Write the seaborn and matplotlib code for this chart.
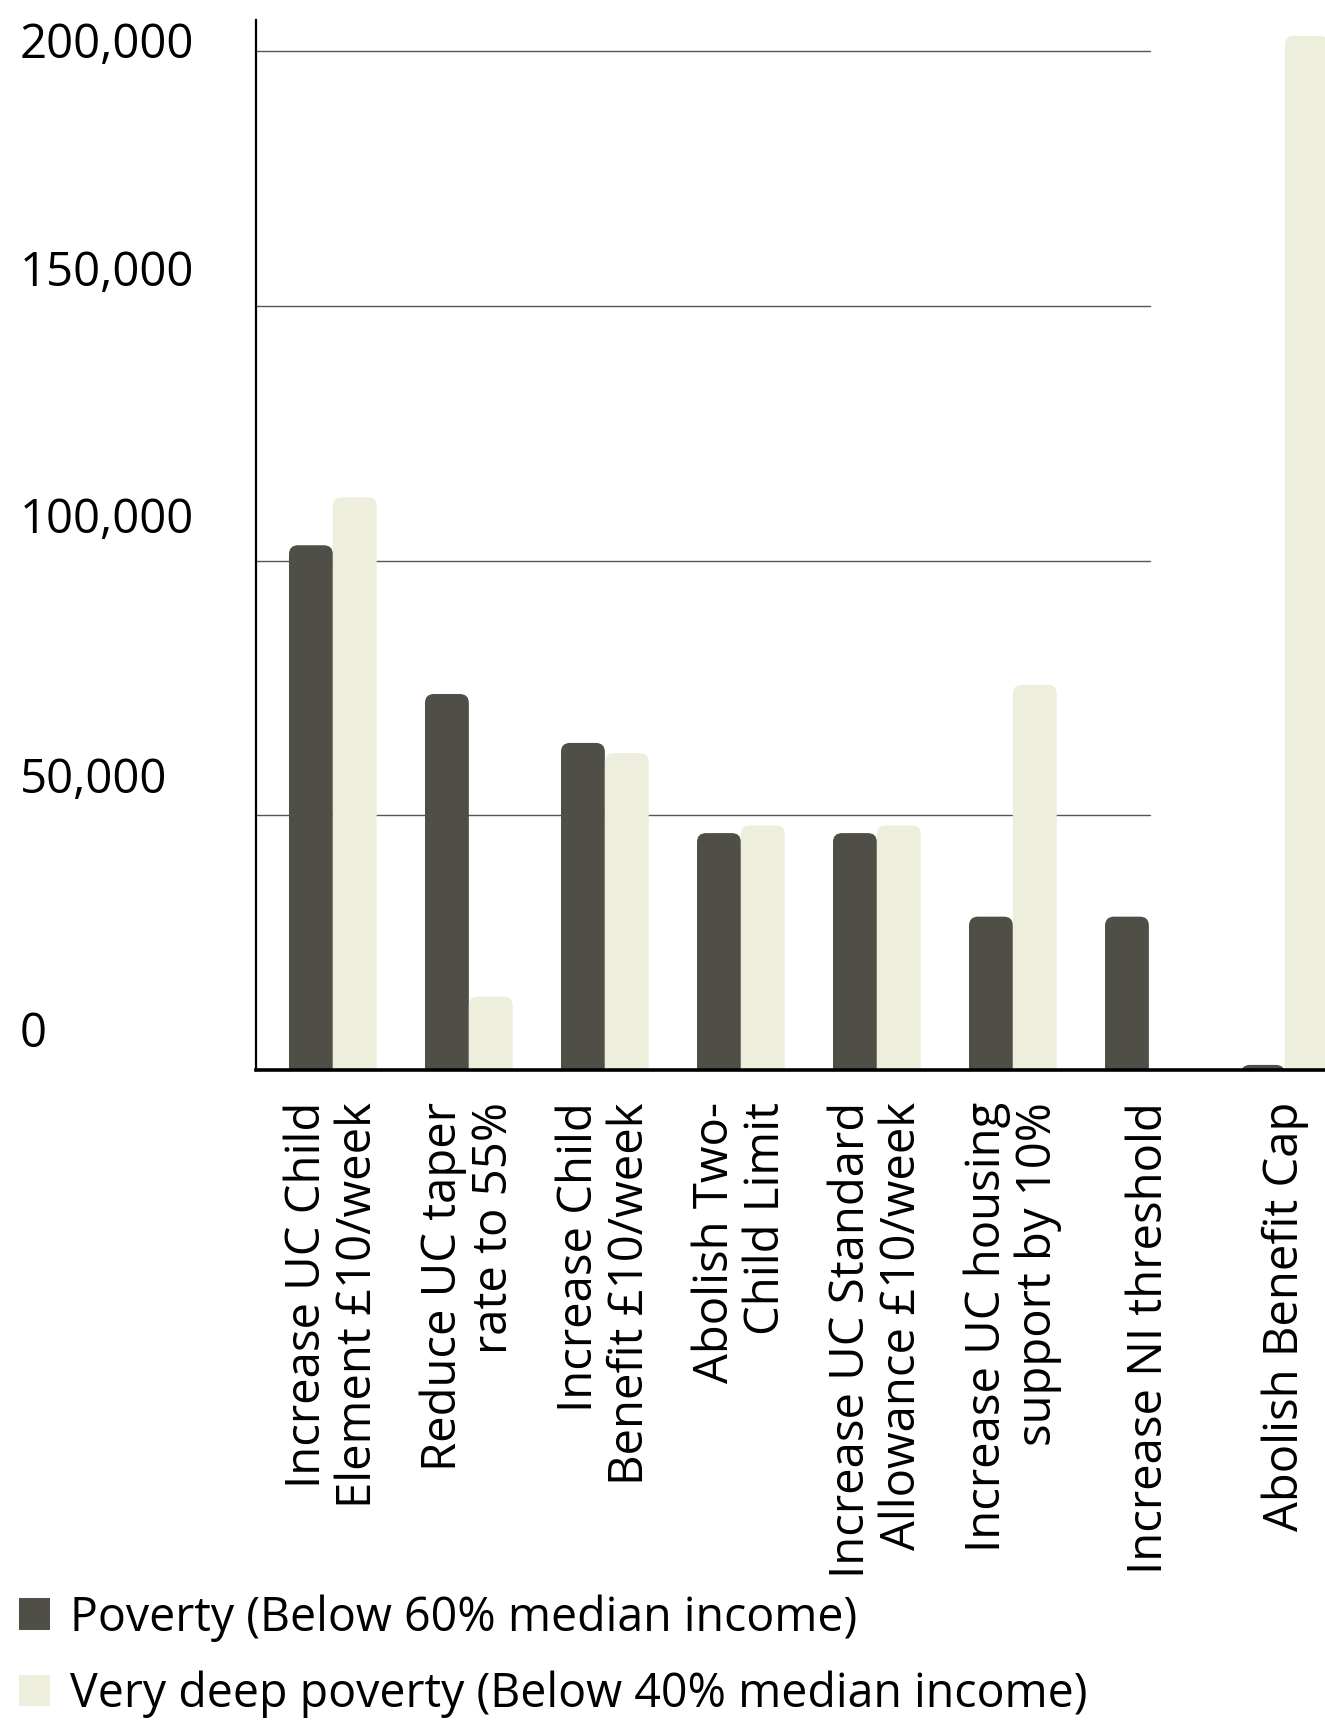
import matplotlib
matplotlib.use("Agg")
import matplotlib.pyplot as plt
import matplotlib.transforms as mtransforms
from matplotlib.patches import FancyBboxPatch, Patch
import seaborn as sns
import pandas as pd

categories = [
    "Increase UC Child\nElement £10/week",
    "Reduce UC taper\nrate to 55%",
    "Increase Child\nBenefit £10/week",
    "Abolish Two-\nChild Limit",
    "Increase UC Standard\nAllowance £10/week",
    "Increase UC housing\nsupport by 10%",
    "Increase NI threshold",
    "Abolish Benefit Cap",
]
poverty = [103000, 73800, 64200, 46500, 46500, 30100, 30100, 1000]
very_deep = [112400, 14400, 62200, 48000, 48000, 75600, 0, 203000]
series_names = ["Poverty (Below 60% median income)",
                "Very deep poverty (Below 40% median income)"]
ytick_values = [0, 50000, 100000, 150000, 200000]
ytick_labels = ["0", "50,000", "100,000", "150,000", "200,000"]

colors = ["#4f4f47", "#eeeedc"]

df = pd.DataFrame({
    "category": categories * 2,
    "value": poverty + very_deep,
    "series": [series_names[0]] * len(categories) + [series_names[1]] * len(categories),
})

sns.set_theme(style="white")
plt.rcParams["font.family"] = ["Open Sans", "DejaVu Sans"]
plt.rcParams["text.color"] = "black"
plt.rcParams["xtick.color"] = "black"
plt.rcParams["ytick.color"] = "black"
FS = 34

W, H = 1325, 1720
fig = plt.figure(figsize=(W / 100, H / 100), dpi=100)
ax = fig.add_axes([256 / W, 1 - 1070 / H, (W - 256) / W, (1070 - 20) / H])

sns.barplot(data=df, x="category", y="value", hue="series", palette=colors,
            width=0.645, gap=0, ax=ax, legend=False, saturation=1, zorder=2)

ax.set_xlim(-0.565, 7.295)
ax.set_ylim(0, 206100)

# rounded tops
fig.canvas.draw()
px_x = ax.transData.transform((1, 0))[0] - ax.transData.transform((0, 0))[0]
px_y = ax.transData.transform((0, 1))[1] - ax.transData.transform((0, 0))[1]
aspect = px_x / px_y
r = 9 / px_x
for p in list(ax.patches):
    x0, w, h = p.get_x(), p.get_width(), p.get_height()
    fc = p.get_facecolor()
    p.set_visible(False)
    if h <= 0:
        continue
    ext = 12 / px_y
    nb = FancyBboxPatch((x0, -ext), w, h + ext,
                        boxstyle=f"round,pad=0,rounding_size={r}",
                        mutation_aspect=aspect, facecolor=fc, edgecolor="none",
                        zorder=2)
    ax.add_patch(nb)

# gridlines
for v in ytick_values[1:]:
    ax.axhline(v, xmin=0, xmax=(1150 - 256) / (W - 256), color="#555555", lw=1.0, zorder=0)

ax.set_yticks([])
ax.set_xlabel("")
ax.set_ylabel("")
sns.despine(ax=ax, top=True, right=True)
ax.spines["left"].set_color("black")
ax.spines["left"].set_linewidth(1.6)
ax.spines["bottom"].set_color("black")
ax.spines["bottom"].set_linewidth(2.6)
ax.spines["bottom"].set_zorder(5)

ax.tick_params(axis="x", length=0, pad=23, colors="black")
ax.set_xticks(range(len(categories)))
ax.set_xticklabels(categories, fontsize=FS, rotation=90, ha="center", va="top",
                   multialignment="right", linespacing=1.1, color="black")

# y labels sitting above gridlines
blend = mtransforms.blended_transform_factory(fig.transFigure, ax.transData)
offsets = [36, 35, 40, 33, 6]
for v, lab, off in zip(ytick_values, ytick_labels, offsets):
    tr = mtransforms.offset_copy(blend, fig=fig, y=off, units="dots")
    ax.text(20 / W, v, lab, transform=tr, fontsize=FS, ha="left", va="center",
            clip_on=False, color="black")

handles = [Patch(facecolor=c, edgecolor="none") for c in colors]
leg = fig.legend(handles, series_names, loc="upper left",
                 bbox_to_anchor=(19 / W, 1 - 1594 / H), frameon=False,
                 fontsize=33.5, handlelength=0.67, handleheight=0.67,
                 handletextpad=0.42, labelspacing=0.62, borderaxespad=0, borderpad=0)
for t in leg.get_texts():
    t.set_color("black")

fig.savefig("out.png", dpi=100)
